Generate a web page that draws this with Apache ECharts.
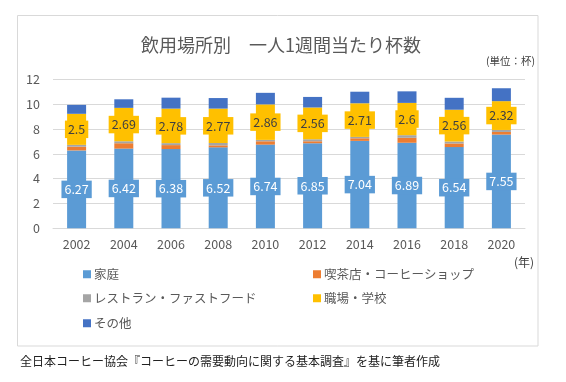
<!DOCTYPE html>
<html><head><meta charset="utf-8">
<script src="https://cdn.jsdelivr.net/npm/echarts@6/dist/echarts.min.js"></script>
<style>html,body{margin:0;padding:0;background:#fff}#c{width:566px;height:382px}</style>
</head><body><div id="c"></div>
<script>
var years = ['2002','2004','2006','2008','2010','2012','2014','2016','2018','2020'];
var home = [6.27, 6.42, 6.38, 6.52, 6.74, 6.85, 7.04, 6.89, 6.54, 7.55];
var cafe = [0.30, 0.43, 0.32, 0.16, 0.27, 0.16, 0.21, 0.40, 0.29, 0.21];
var restaurant = [0.15, 0.16, 0.16, 0.19, 0.11, 0.16, 0.11, 0.21, 0.16, 0.16];
var work = [2.5, 2.69, 2.78, 2.77, 2.86, 2.56, 2.71, 2.6, 2.56, 2.32];
var other = [0.72, 0.69, 0.88, 0.85, 0.93, 0.85, 0.93, 0.93, 0.96, 1.04];
var names = ['家庭','喫茶店・コーヒーショップ','レストラン・ファストフード','職場・学校','その他'];
var colors = ['#5B9BD5','#ED7D31','#A5A5A5','#FFC000','#4472C4'];
var yTicks = [0,2,4,6,8,10,12];

var F = '"Noto Sans CJK JP", "Noto Sans", sans-serif';
var chart = echarts.init(document.getElementById('c'));
function lg(name, left, top){
  return {data:[name], left:left, top:top, itemWidth:8, itemHeight:8, itemGap:0, icon:'rect',
    textStyle:{fontFamily:F, fontSize:12.5, color:'#595959', padding:[0,0,0,-2]}, selectedMode:false, padding:0};
}
var datas = [home, cafe, restaurant, work, other];
var series = names.map(function(n,i){
  var s = {name:n, type:'bar', stack:'t', data:datas[i], barWidth:19, itemStyle:{color:colors[i]}, animation:false};
  if(i===0 || i===3){
    s.label = {show:true, position:'inside', fontFamily:F, fontSize:12.5,
      color: i===0 ? '#ffffff' : '#404040', backgroundColor: colors[i], padding:[3,3,2,3]};
  }
  return s;
});
chart.setOption({
  animation:false,
  title:{text:'飲用場所別　一人1週間当たり杯数', left:276, textAlign:'center', top:31,
    textStyle:{fontFamily:F, fontSize:18, fontWeight:'normal', color:'#595959'}},
  legend:[lg(names[0],83,268), lg(names[1],313,268), lg(names[2],83,292), lg(names[3],313,292), lg(names[4],83,317)],
  grid:{left:53, right:41, top:79.3, bottom:153.7, containLabel:false},
  xAxis:{type:'category', data:years, axisTick:{show:false},
    axisLine:{show:true, lineStyle:{color:'#d9d9d9'}},
    axisLabel:{fontFamily:F, fontSize:12.5, color:'#595959', margin:10}},
  yAxis:{type:'value', min:yTicks[0], max:yTicks[yTicks.length-1], interval:2,
    axisLine:{show:false}, axisTick:{show:false},
    splitLine:{lineStyle:{color:'#d9d9d9'}},
    axisLabel:{fontFamily:F, fontSize:12.5, color:'#595959', margin:13}},
  graphic:[
    {type:'rect', shape:{x:17.5, y:15.5, width:520.5, height:330.5}, style:{fill:'none', stroke:'#d9d9d9', lineWidth:1}, silent:true, z:-1},
    {type:'text', right:31, top:56, style:{text:'(単位：杯)', font:'10.5px "Noto Sans CJK JP"', fill:'#404040'}},
    {type:'text', left:514, top:256, style:{text:'(年)', font:'12px "Noto Sans CJK JP"', fill:'#404040'}},
    {type:'text', left:20, top:355, style:{text:'全日本コーヒー協会『コーヒーの需要動向に関する基本調査』を基に筆者作成', font:'12px "Noto Sans CJK JP"', fill:'#222'}}
  ],
  series:series
});
</script></body></html>
